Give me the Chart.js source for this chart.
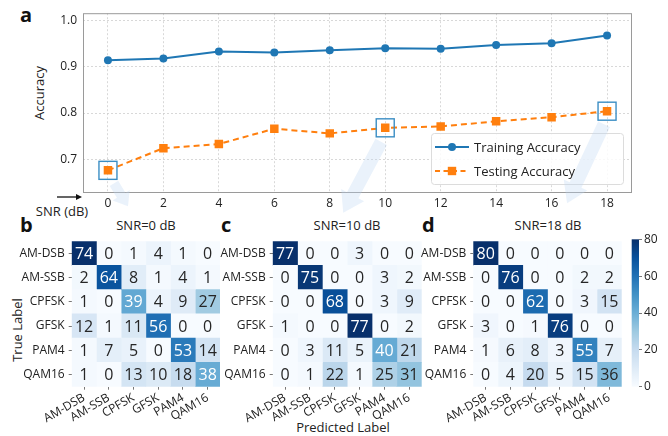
<!DOCTYPE html>
<html><head><meta charset="utf-8">
<script src="https://cdn.jsdelivr.net/npm/chart.js@4.4.1/dist/chart.umd.min.js"></script>
<style>
html,body{margin:0;padding:0;background:#fff;}
body{width:668px;height:436px;position:relative;overflow:hidden;font-family:'Open Sans',sans-serif;color:#222;}
canvas{position:absolute;}
.t{position:absolute;white-space:nowrap;transform:translate(-50%,-50%);line-height:1;font-size:13px;color:#222;}
.r{transform:translate(-50%,-50%) rotate(-90deg);}
.L{position:absolute;font-weight:bold;font-size:20px;line-height:1;color:#111;}
</style></head><body>
<canvas id="m0" style="left:0;top:230px;z-index:1" width="230" height="206"></canvas>
<canvas id="m1" style="left:215px;top:230px;z-index:1" width="215" height="206"></canvas>
<canvas id="m2" style="left:420px;top:230px;z-index:1" width="215" height="206"></canvas>
<canvas id="cb" style="left:625px;top:230px;z-index:1" width="43" height="206"></canvas>
<canvas id="top" style="left:0;top:0;z-index:3" width="668" height="232"></canvas>

<div class="L" style="left:20px;top:5px;">a</div>
<div class="L" style="left:20px;top:215px;">b</div>
<div class="L" style="left:221px;top:215px;">c</div>
<div class="L" style="left:422px;top:215px;">d</div>
<div class="t r" style="left:39px;top:93px;">Accuracy</div>
<div class="t" style="left:62px;top:211px;">SNR (dB)</div>
<div class="t" id="tt0" style="left:146px;top:225px;"></div>
<div class="t" id="tt1" style="left:347px;top:225px;"></div>
<div class="t" id="tt2" style="left:548px;top:225px;"></div>
<div class="t r" style="left:17px;top:330px;">True Label</div>
<div class="t" style="left:343px;top:427px;">Predicted Label</div>

<script>
// ---------- DATA ----------
const snrValues = [0, 2, 4, 6, 8, 10, 12, 14, 16, 18];
const trainingAcc = [0.914, 0.918, 0.933, 0.931, 0.936, 0.940, 0.939, 0.947, 0.951, 0.968];
const testingAcc  = [0.676, 0.724, 0.733, 0.766, 0.756, 0.768, 0.771, 0.782, 0.791, 0.804];
const accTicks = [0.7, 0.8, 0.9, 1.0];
const highlightSNR = [0, 10, 18];

const classNames = ['AM-DSB', 'AM-SSB', 'CPFSK', 'GFSK', 'PAM4', 'QAM16'];
const matrixTitles = ['SNR=0 dB', 'SNR=10 dB', 'SNR=18 dB'];
const cm0dB = [
  [74, 0, 1, 4, 1, 0],
  [2, 64, 8, 1, 4, 1],
  [1, 0, 39, 4, 9, 27],
  [12, 1, 11, 56, 0, 0],
  [1, 7, 5, 0, 53, 14],
  [1, 0, 13, 10, 18, 38]
];
const cm10dB = [
  [77, 0, 0, 3, 0, 0],
  [0, 75, 0, 0, 3, 2],
  [0, 0, 68, 0, 3, 9],
  [1, 0, 0, 77, 0, 2],
  [0, 3, 11, 5, 40, 21],
  [0, 1, 22, 1, 25, 31]
];
const cm18dB = [
  [80, 0, 0, 0, 0, 0],
  [0, 76, 0, 0, 2, 2],
  [0, 0, 62, 0, 3, 15],
  [3, 0, 1, 76, 0, 0],
  [1, 6, 8, 3, 55, 7],
  [0, 4, 20, 5, 15, 36]
];
const colorbarTicks = [0, 20, 40, 60, 80];

// ---------- STYLE ----------
const FONT = "'Open Sans', sans-serif";
Chart.defaults.font.family = FONT;
Chart.defaults.color = '#222';
Chart.defaults.animation = false;
Chart.defaults.plugins.legend.display = false;
Chart.defaults.plugins.tooltip.enabled = false;

const BLUES = [[247,251,255],[222,235,247],[198,219,239],[158,202,225],[107,174,214],[66,146,198],[33,113,181],[8,81,156],[8,48,107]];
function blues(t) {
  t = Math.max(0, Math.min(1, t));
  const p = t * (BLUES.length - 1), i = Math.min(BLUES.length - 2, Math.floor(p)), f = p - i;
  return BLUES[i].map((c, k) => c + (BLUES[i + 1][k] - c) * f);
}
const rgb = c => `rgb(${c.map(Math.round).join(',')})`;
function lum(c) {
  const l = c.map(v => { v /= 255; return v <= 0.03928 ? v / 12.92 : Math.pow((v + 0.055) / 1.055, 2.4); });
  return 0.2126 * l[0] + 0.7152 * l[1] + 0.0722 * l[2];
}

// ---------- TOP LINE CHART ----------
const BLUE = '#1f77b4', ORANGE = '#ff7f0e';
const arrowSpecs = [ // offsets (px) from the highlighted testing point
  {snr: 0,  sx: 6,  sy: 13, ex: 20,  ey: 36, shaft: 10, head: 20, hl: 13},
  {snr: 10, sx: -4, sy: 14, ex: -42, ey: 85, shaft: 13, head: 26, hl: 20},
  {snr: 18, sx: -3, sy: 13, ex: -40, ey: 92, shaft: 13, head: 26, hl: 20}
];
function drawBlockArrow(ctx, x1, y1, x2, y2, sw, hw, hl) {
  const dx = x2 - x1, dy = y2 - y1, L = Math.hypot(dx, dy), ux = dx / L, uy = dy / L, nx = -uy, ny = ux;
  const bx = x2 - ux * hl, by = y2 - uy * hl;
  ctx.beginPath();
  ctx.moveTo(x1 + nx * sw / 2, y1 + ny * sw / 2);
  ctx.lineTo(bx + nx * sw / 2, by + ny * sw / 2);
  ctx.lineTo(bx + nx * hw / 2, by + ny * hw / 2);
  ctx.lineTo(x2, y2);
  ctx.lineTo(bx - nx * hw / 2, by - ny * hw / 2);
  ctx.lineTo(bx - nx * sw / 2, by - ny * sw / 2);
  ctx.lineTo(x1 - nx * sw / 2, y1 - ny * sw / 2);
  ctx.closePath();
  ctx.fill();
}
const topPlugin = {
  id: 'topDecor',
  beforeDatasetsDraw(chart) {
    const {ctx, chartArea: a} = chart;
    ctx.save();
    ctx.strokeStyle = '#9a9a9a'; ctx.lineWidth = 1;
    ctx.strokeRect(a.left + 0.5, a.top + 0.5, a.right - a.left - 1, a.bottom - a.top - 1);
    ctx.restore();
  },
  afterDatasetsDraw(chart) {
    const {ctx, scales: {x, y}} = chart;
    ctx.save();
    ctx.strokeStyle = '#3b8ec4'; ctx.lineWidth = 1.4;
    highlightSNR.forEach(s => {
      const i = snrValues.indexOf(s);
      const px = x.getPixelForValue(s), py = y.getPixelForValue(testingAcc[i]);
      ctx.strokeRect(px - 9, py - 9, 18, 18);
    });
    ctx.restore();
  },
  afterDraw(chart) {
    const {ctx, chartArea: a, scales: {x, y}} = chart;
    ctx.save();
    // legend
    const w = 192, h = 51, x0 = a.right - 9 - w, y0 = a.bottom - 9 - h;
    ctx.fillStyle = 'rgba(255,255,255,0.85)'; ctx.strokeStyle = '#dcdcdc'; ctx.lineWidth = 1;
    ctx.beginPath(); ctx.roundRect(x0 + 0.5, y0 + 0.5, w, h, 3); ctx.fill(); ctx.stroke();
    const rows = [
      {label: 'Training Accuracy', color: BLUE, dash: [], marker: 'circle', yy: y0 + 14},
      {label: 'Testing Accuracy', color: ORANGE, dash: [5, 3.5], marker: 'rect', yy: y0 + 38}
    ];
    rows.forEach(r => {
      ctx.strokeStyle = r.color; ctx.fillStyle = r.color; ctx.lineWidth = 2; ctx.setLineDash(r.dash);
      ctx.beginPath(); ctx.moveTo(x0 + 4, r.yy); ctx.lineTo(x0 + 38, r.yy); ctx.stroke();
      ctx.setLineDash([]);
      ctx.beginPath();
      if (r.marker === 'circle') ctx.arc(x0 + 21, r.yy, 4, 0, Math.PI * 2);
      else ctx.rect(x0 + 21 - 4.2, r.yy - 4.2, 8.4, 8.4);
      ctx.fill();
      ctx.fillStyle = '#222'; ctx.font = `13px ${FONT}`; ctx.textBaseline = 'middle'; ctx.textAlign = 'left';
      ctx.fillText(r.label, x0 + 43, r.yy + 1);
    });
    // SNR arrow (x-axis hint)
    ctx.strokeStyle = '#111'; ctx.fillStyle = '#111'; ctx.lineWidth = 1.3;
    const ay = a.bottom + 4;
    ctx.beginPath(); ctx.moveTo(a.left - 26, ay); ctx.lineTo(a.left - 5, ay); ctx.stroke();
    ctx.beginPath(); ctx.moveTo(a.left - 1, ay); ctx.lineTo(a.left - 7, ay - 3); ctx.lineTo(a.left - 7, ay + 3); ctx.closePath(); ctx.fill();
    // block arrows to matrices
    ctx.fillStyle = 'rgba(190,216,242,0.32)';
    arrowSpecs.forEach(s => {
      const i = snrValues.indexOf(s.snr);
      const px = x.getPixelForValue(s.snr), py = y.getPixelForValue(testingAcc[i]);
      drawBlockArrow(ctx, px + s.sx, py + s.sy, px + s.ex, py + s.ey, s.shaft, s.head, s.hl);
    });
    ctx.restore();
  }
};

new Chart(document.getElementById('top'), {
  type: 'line',
  data: {
    labels: snrValues,
    datasets: [
      {label: 'Training Accuracy', data: snrValues.map((s, i) => ({x: s, y: trainingAcc[i]})),
       borderColor: BLUE, backgroundColor: BLUE, borderWidth: 2, pointRadius: 4, pointStyle: 'circle', pointBorderWidth: 0},
      {label: 'Testing Accuracy', data: snrValues.map((s, i) => ({x: s, y: testingAcc[i]})),
       borderColor: ORANGE, backgroundColor: ORANGE, borderWidth: 2, borderDash: [6, 4], pointRadius: 6, pointStyle: 'rect', pointBorderWidth: 0}
    ]
  },
  options: {
    responsive: false,
    layout: {padding: {left: 0, top: 11, right: 36, bottom: 0}},
    scales: {
      x: {
        type: 'linear', min: -0.9, max: 18.9,
        afterBuildTicks: s => { s.ticks = snrValues.map(v => ({value: v})); },
        afterFit: s => { s.height = 39; },
        ticks: {font: {size: 12}, padding: 3, color: '#222'},
        grid: {color: '#cfcfcf', drawTicks: false, lineWidth: 0.8},
        border: {display: false, dash: [2, 2]}
      },
      y: {
        min: 0.627, max: 1.016,
        afterBuildTicks: s => { s.ticks = accTicks.map(v => ({value: v})); },
        afterFit: s => { s.width = 83; },
        ticks: {font: {size: 12}, padding: 6, color: '#222', callback: v => v.toFixed(1)},
        grid: {color: '#cfcfcf', drawTicks: false, lineWidth: 0.8},
        border: {display: false, dash: [2, 2]}
      }
    }
  },
  plugins: [topPlugin]
});

// ---------- CONFUSION MATRICES ----------
const cellTextPlugin = {
  id: 'cellText',
  afterDatasetsDraw(chart) {
    const {ctx} = chart;
    const cm = chart.options.plugins.cellText.matrix;
    const vmax = Math.max(...cm.flat());
    ctx.save();
    ctx.font = `16px ${FONT}`; ctx.textAlign = 'center'; ctx.textBaseline = 'middle';
    chart.data.datasets.forEach((ds, j) => {
      chart.getDatasetMeta(j).data.forEach((bar, r) => {
        const p = bar.getProps(['x', 'y', 'base'], true);
        const v = cm[r][j];
        const c = blues(v / vmax);
        ctx.fillStyle = lum(c) < 0.408 ? '#ffffff' : '#262626';
        ctx.fillText(String(v), (p.x + p.base) / 2, p.y + 1);
      });
    });
    ctx.restore();
  }
};

function makeMatrix(id, cm, yAxisWidth, rightPad) {
  const vmax = Math.max(...cm.flat());
  const datasets = classNames.map((_, j) => ({
    data: classNames.map(() => 1),
    backgroundColor: cm.map(row => rgb(blues(row[j] / vmax))),
    borderWidth: 0, barPercentage: 1, categoryPercentage: 1
  }));
  new Chart(document.getElementById(id), {
    type: 'bar',
    data: {labels: classNames, datasets},
    options: {
      responsive: false, indexAxis: 'y',
      layout: {padding: {left: 0, top: 9.3, right: rightPad, bottom: 0}},
      plugins: {cellText: {matrix: cm}},
      scales: {
        x: {
          type: 'linear', min: 0, max: classNames.length, stacked: true,
          afterBuildTicks: s => { s.ticks = classNames.map((_, i) => ({value: i + 0.5})); },
          afterFit: s => { s.height = 49.3; },
          ticks: {font: {size: 12}, minRotation: 30, maxRotation: 30, autoSkip: false, padding: 1, color: '#222',
                  callback: v => classNames[Math.floor(v)]},
          grid: {drawOnChartArea: false, drawTicks: true, tickLength: 3, color: '#777'},
          border: {display: false}
        },
        y: {
          stacked: true, offset: true,
          afterFit: s => { s.width = yAxisWidth; },
          ticks: {font: {size: 12}, padding: 4, color: '#222'},
          grid: {drawOnChartArea: false, drawTicks: true, tickLength: 3, color: '#777', offset: false},
          border: {display: false}
        }
      }
    },
    plugins: [cellTextPlugin]
  });
}
makeMatrix('m0', cm0dB, 71.7, 10);
makeMatrix('m1', cm10dB, 57.7, 8.3);
makeMatrix('m2', cm18dB, 53.3, 13.3);
matrixTitles.forEach((t, i) => { document.getElementById('tt' + i).textContent = t; });

// ---------- COLORBAR ----------
new Chart(document.getElementById('cb'), {
  type: 'scatter',
  data: {datasets: [{data: []}]},
  options: {
    responsive: false,
    layout: {padding: {left: 6.7, top: 9.3, right: 0, bottom: 49.3}},
    scales: {
      x: {display: false, min: 0, max: 1},
      y: {
        position: 'right', min: 0, max: 80,
        afterBuildTicks: s => { s.ticks = colorbarTicks.map(v => ({value: v})); },
        afterFit: s => { s.width = 29; },
        ticks: {font: {size: 12}, padding: 2, color: '#222'},
        grid: {drawOnChartArea: false, drawTicks: true, tickLength: 3, color: '#777'},
        border: {display: false}
      }
    }
  },
  plugins: [{
    id: 'cbGrad',
    beforeDatasetsDraw(chart) {
      const {ctx, chartArea: a} = chart;
      const g = ctx.createLinearGradient(0, a.bottom, 0, a.top);
      BLUES.forEach((c, i) => g.addColorStop(i / (BLUES.length - 1), rgb(c)));
      ctx.save(); ctx.fillStyle = g; ctx.fillRect(a.left, a.top, a.right - a.left, a.bottom - a.top); ctx.restore();
    }
  }]
});
</script>
</body></html>
